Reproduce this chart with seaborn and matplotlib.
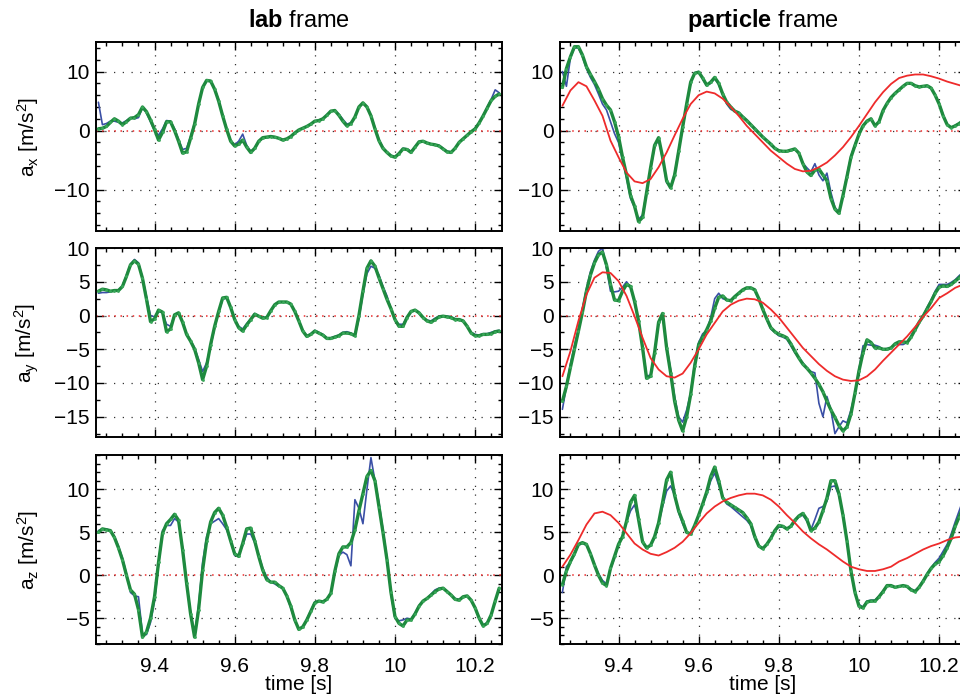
import numpy as np
import pandas as pd
import seaborn as sns
import matplotlib.pyplot as plt
from matplotlib.ticker import MultipleLocator

# sample times [s] of the measured traces
time = [9.26, 9.27, 9.28, 9.29, 9.30, 9.31, 9.32, 9.33, 9.34, 9.35,
        9.36, 9.37, 9.38, 9.39, 9.40, 9.41, 9.42, 9.43, 9.44, 9.45,
        9.46, 9.47, 9.48, 9.49, 9.50, 9.51, 9.52, 9.53, 9.54, 9.55,
        9.56, 9.57, 9.58, 9.59, 9.60, 9.61, 9.62, 9.63, 9.64, 9.65,
        9.66, 9.67, 9.68, 9.69, 9.70, 9.71, 9.72, 9.73, 9.74, 9.75,
        9.76, 9.77, 9.78, 9.79, 9.80, 9.81, 9.82, 9.83, 9.84, 9.85,
        9.86, 9.87, 9.88, 9.89, 9.90, 9.91, 9.92, 9.93, 9.94, 9.95,
        9.96, 9.97, 9.98, 9.99, 10.00, 10.01, 10.02, 10.03, 10.04, 10.05,
        10.06, 10.07, 10.08, 10.09, 10.10, 10.11, 10.12, 10.13, 10.14, 10.15,
        10.16, 10.17, 10.18, 10.19, 10.20, 10.21, 10.22, 10.23, 10.24, 10.25,
        10.26]

# sample times of the (smooth) red particle-frame reference
time_red = [9.26, 9.28, 9.30, 9.32, 9.34, 9.36, 9.38, 9.40, 9.42, 9.44,
            9.46, 9.48, 9.50, 9.52, 9.54, 9.56, 9.58, 9.60, 9.62, 9.64,
            9.66, 9.68, 9.70, 9.72, 9.74, 9.76, 9.78, 9.80, 9.82, 9.84,
            9.86, 9.88, 9.90, 9.92, 9.94, 9.96, 9.98, 10.00, 10.02, 10.04,
            10.06, 10.08, 10.10, 10.12, 10.14, 10.16, 10.18, 10.20, 10.22, 10.24,
            10.26]

# ---- lab frame ----
lab_ax_blue = [4.8, 1.0, 1.2, 1.6, 1.6, 1.4, 1.3, 1.7, 2.2, 2.0,
               2.2, 3.9, 3.0, 1.5, 0.0, -0.8, 0.3, 1.7, 1.6, 0.3,
               -1.5, -3.2, -3.0, -1.0, 1.3, 4.4, 7.3, 8.4, 8.3, 7.1,
               5.2, 2.6, 0.3, -1.7, -2.4, -1.8, -0.6, -2.5, -3.5, -3.0,
               -1.9, -1.3, -1.2, -1.1, -1.2, -1.3, -1.5, -1.4, -1.1, -0.5,
               0.1, 0.4, 0.7, 1.1, 1.6, 1.8, 2.0, 2.7, 3.3, 3.3,
               2.8, 1.9, 1.1, 1.3, 2.3, 3.9, 4.6, 4.1, 2.6, 0.5,
               -1.5, -2.9, -3.6, -4.2, -4.4, -3.8, -3.0, -3.1, -3.5, -2.7,
               -2.0, -1.9, -2.1, -2.3, -2.4, -2.5, -3.0, -3.5, -3.6, -3.0,
               -2.0, -1.4, -0.8, -0.2, 0.4, 1.4, 2.6, 4.0, 5.3, 6.9,
               6.4]
lab_ax_green = [0.3, 0.4, 0.7, 1.4, 2.0, 1.6, 1.0, 1.5, 2.1, 2.2,
                2.7, 4.0, 3.2, 1.8, 0.2, -1.6, -0.3, 1.5, 1.5, 0.0,
                -1.8, -3.8, -3.6, -1.3, 1.1, 4.5, 7.3, 8.5, 8.4, 7.0,
                5.0, 2.5, 0.2, -1.8, -2.6, -2.3, -1.6, -2.8, -3.7, -3.0,
                -1.8, -1.2, -1.1, -1.0, -1.1, -1.3, -1.6, -1.4, -1.0, -0.4,
                0.1, 0.4, 0.7, 1.1, 1.6, 1.7, 2.0, 2.6, 3.3, 3.4,
                2.6, 1.6, 0.8, 1.2, 2.3, 4.0, 4.7, 4.0, 2.5, 0.3,
                -1.7, -3.0, -3.7, -4.3, -4.5, -3.9, -3.1, -3.2, -3.7, -2.8,
                -1.9, -1.8, -2.1, -2.3, -2.4, -2.6, -3.1, -3.6, -3.7, -3.0,
                -2.0, -1.4, -0.8, -0.2, 0.3, 1.3, 2.5, 3.8, 5.1, 5.8,
                6.2]

lab_ay_blue = [3.3, 3.4, 3.4, 3.5, 3.7, 3.8, 4.4, 6.0, 7.6, 8.3,
               7.8, 5.6, 2.8, 0.0, -0.2, 0.6, 0.4, -1.3, -1.6, 0.1,
               0.4, -0.9, -2.7, -3.7, -4.8, -6.5, -8.3, -7.0, -4.6, -1.8,
               0.4, 2.4, 2.6, 1.3, -0.5, -1.6, -2.0, -1.2, -0.5, 0.3,
               -0.1, -0.3, -0.3, 0.7, 1.6, 2.0, 2.0, 2.0, 1.7, 0.6,
               -0.8, -2.2, -3.0, -2.7, -2.2, -2.5, -2.8, -3.3, -3.3, -3.1,
               -2.9, -2.5, -2.4, -2.6, -3.0, -0.5, 3.2, 6.2, 7.3, 7.0,
               6.0, 4.3, 2.9, 1.0, -0.7, -1.3, -1.3, -0.2, 0.5, 0.8,
               0.3, -0.3, -0.7, -0.8, -0.4, -0.1, -0.1, -0.1, -0.2, -0.5,
               -0.5, -0.8, -1.6, -2.5, -2.8, -2.9, -2.7, -2.7, -2.5, -2.3,
               -2.2]
lab_ay_green = [3.6, 3.9, 3.8, 3.6, 3.7, 3.7, 4.3, 5.8, 7.5, 8.1,
                7.6, 5.5, 2.4, -0.9, -0.5, 0.8, 0.5, -2.4, -2.0, 0.1,
                0.4, -1.0, -2.8, -3.8, -5.0, -7.0, -9.5, -7.5, -4.3, -1.6,
                0.6, 2.6, 2.7, 1.2, -0.6, -1.8, -2.3, -1.4, -0.6, 0.2,
                -0.1, -0.4, -0.3, 0.7, 1.6, 2.0, 2.0, 2.0, 1.7, 0.6,
                -0.8, -2.3, -3.1, -2.8, -2.3, -2.6, -2.9, -3.4, -3.4, -3.2,
                -3.0, -2.6, -2.6, -2.7, -3.0, 0.0, 3.6, 7.0, 8.1, 7.3,
                5.6, 4.0, 2.4, 1.0, -0.6, -1.6, -1.6, -0.3, 0.6, 0.8,
                0.4, -0.3, -0.8, -1.0, -0.6, -0.2, -0.1, -0.2, -0.3, -0.6,
                -0.6, -0.8, -1.6, -2.6, -3.0, -3.0, -2.8, -2.8, -2.7, -2.4,
                -2.3]

lab_az_blue = [5.2, 5.4, 5.4, 5.2, 4.5, 3.4, 2.0, 0.2, -2.0, -2.4,
               -2.5, -6.8, -6.9, -5.5, -3.0, 1.2, 5.2, 5.8, 5.8, 6.6,
               6.2, 3.2, -1.0, -4.3, -6.8, -3.5, 1.5, 4.5, 6.0, 6.3,
               6.6, 6.0, 5.3, 4.0, 2.3, 2.4, 3.5, 4.8, 4.8, 3.8,
               2.4, 0.8, -0.2, -0.8, -1.0, -1.3, -1.5, -2.4, -3.8, -5.3,
               -6.2, -6.0, -5.1, -4.1, -3.1, -3.0, -3.1, -2.8, -2.0, 0.3,
               2.3, 2.7, 2.4, 1.1, 8.8, 7.8, 6.0, 10.0, 13.7, 11.0,
               8.5, 5.3, 2.0, -2.2, -5.0, -5.3, -5.2, -5.0, -5.1, -4.4,
               -3.5, -3.0, -2.7, -2.2, -1.7, -1.5, -1.5, -1.9, -2.3, -2.7,
               -2.8, -2.5, -2.4, -2.9, -3.8, -5.0, -5.8, -5.5, -4.6, -3.0,
               -1.5]
lab_az_green = [5.0, 5.4, 5.3, 5.2, 4.4, 3.2, 1.8, 0.0, -1.7, -2.2,
                -4.0, -7.2, -6.6, -5.0, -2.5, 1.5, 4.9, 6.0, 6.5, 7.1,
                6.4, 3.0, -0.9, -4.5, -7.2, -4.0, 0.6, 4.0, 6.2, 7.3,
                7.8, 7.0, 5.6, 4.0, 2.5, 2.2, 3.7, 5.4, 5.5, 4.0,
                2.2, 0.6, -0.5, -0.8, -0.8, -1.2, -1.5, -2.4, -3.6, -5.2,
                -6.3, -6.0, -5.2, -4.2, -3.2, -3.0, -3.1, -2.8, -2.1, 0.5,
                2.5, 3.3, 3.3, 3.8, 5.3, 7.5, 9.5, 11.5, 12.2, 11.0,
                8.0, 5.0, 1.8, -2.0, -4.8, -5.6, -5.9, -5.2, -5.2, -4.5,
                -3.6, -3.0, -2.7, -2.3, -1.9, -1.6, -1.5, -1.9, -2.3, -2.8,
                -2.9, -2.5, -2.4, -2.9, -3.8, -5.0, -5.9, -5.6, -4.6, -3.0,
                -1.5]

# ---- particle frame ----
part_ax_blue = [10.0, 7.5, 12.3, 14.0, 14.0, 12.5, 10.5, 9.0, 7.8, 6.2,
                4.5, 3.5, 1.5, -0.5, -2.0, -5.0, -8.0, -11.5, -13.0, -15.0,
                -14.3, -10.3, -6.5, -2.8, -1.5, -4.8, -8.8, -9.6, -7.3, -3.3,
                0.4, 4.3, 8.0, 9.8, 10.0, 8.7, 7.6, 8.0, 8.8, 7.8,
                6.0, 4.5, 3.6, 3.3, 3.0, 2.4, 1.8, 1.0, 0.4, -0.3,
                -1.0, -1.7, -2.5, -3.0, -3.4, -3.5, -3.5, -3.4, -3.2, -3.8,
                -5.5, -6.3, -7.0, -5.6, -7.5, -8.5, -7.2, -10.5, -13.0, -13.8,
                -11.0, -7.5, -4.3, -2.3, -0.6, 0.8, 1.7, 1.8, 0.9, 1.5,
                3.5, 4.6, 5.5, 6.3, 6.9, 7.5, 8.0, 8.0, 7.5, 7.4,
                7.4, 7.5, 7.1, 6.0, 4.6, 2.7, 1.1, 0.5, 0.9, 1.2,
                1.7]
part_ax_green = [7.3, 10.5, 12.5, 14.2, 14.2, 12.8, 10.8, 9.5, 8.3, 7.0,
                 5.4, 4.3, 3.5, 1.5, -1.0, -4.5, -7.5, -11.0, -12.8, -15.4,
                 -14.7, -10.5, -6.3, -2.5, -1.2, -4.5, -8.5, -9.7, -7.5, -3.5,
                 0.6, 4.5, 8.2, 9.7, 9.9, 8.9, 7.7, 8.2, 9.0, 8.0,
                 6.2, 4.8, 4.0, 3.3, 3.0, 2.3, 1.7, 1.0, 0.3, -0.4,
                 -1.1, -1.7, -2.3, -3.0, -3.4, -3.5, -3.5, -3.3, -3.1, -3.8,
                 -5.6, -7.0, -7.6, -6.7, -6.5, -7.5, -8.5, -11.5, -13.3, -14.0,
                 -11.0, -7.8, -4.5, -2.5, -0.6, 0.8, 1.6, 2.0, 0.8, 1.5,
                 3.4, 4.6, 5.6, 6.3, 6.9, 7.5, 8.0, 8.0, 7.6, 7.4,
                 7.5, 7.6, 7.2, 6.0, 4.5, 2.5, 1.0, 0.5, 0.8, 1.2,
                 1.7]
part_ax_red = [4.2, 6.8, 8.2, 7.5, 5.1, 2.5, -1.7, -4.5, -7.1, -8.6,
               -8.9, -8.2, -6.2, -3.7, -0.8, 2.0, 4.5, 6.0, 6.6, 6.3,
               5.4, 4.0, 2.5, 0.8, -0.6, -2.0, -3.4, -4.5, -5.6, -6.5,
               -6.9, -6.8, -6.2, -5.4, -4.2, -2.8, -1.1, 0.8, 2.8, 4.8,
               6.5, 7.9, 8.9, 9.3, 9.5, 9.5, 9.2, 8.8, 8.3, 7.9, 7.5]

part_ay_blue = [-13.9, -10.5, -7.2, -4.5, -2.0, 1.0, 4.0, 6.5, 8.2, 9.5,
                10.0, 7.0, 3.6, 3.5, 3.6, 4.2, 5.0, 4.2, 2.0, -1.0,
                -4.5, -9.0, -8.8, -5.5, -1.2, 0.0, -4.5, -8.0, -12.0, -15.0,
                -15.8, -14.0, -11.5, -7.0, -4.0, -2.7, -2.3, -0.3, 2.5, 3.3,
                2.5, 2.3, 2.3, 2.8, 3.2, 3.8, 4.0, 4.0, 3.9, 2.4,
                0.8, -0.6, -2.0, -2.5, -3.0, -3.2, -3.5, -4.5, -5.5, -6.3,
                -7.0, -7.8, -8.3, -8.5, -13.0, -15.0, -12.0, -14.0, -17.5, -16.5,
                -15.6, -15.9, -14.0, -11.5, -8.0, -4.5, -4.3, -4.4, -4.4, -4.6,
                -5.0, -4.9, -4.8, -4.3, -4.3, -4.3, -4.0, -3.0, -2.0, -1.0,
                0.0, 1.2, 2.3, 3.6, 4.6, 4.6, 4.6, 4.9, 5.3, 5.9,
                6.4]
part_ay_green = [-12.7, -10.5, -7.7, -5.0, -2.3, 0.5, 3.6, 6.0, 7.8, 9.0,
                 9.4, 7.5, 4.6, 2.3, 2.2, 3.6, 4.6, 4.3, 2.1, -0.8,
                 -4.8, -9.3, -9.0, -5.5, -1.0, 0.3, -4.8, -8.5, -12.7, -15.5,
                 -17.1, -15.0, -11.7, -7.5, -4.3, -3.2, -2.1, -0.8, 1.1, 2.7,
                 2.9, 2.3, 2.2, 2.8, 3.3, 3.8, 4.1, 4.1, 3.8, 2.5,
                 0.9, -0.5, -1.8, -2.4, -2.8, -3.0, -3.3, -4.2, -5.3, -6.3,
                 -7.2, -7.8, -8.5, -9.3, -10.2, -11.3, -12.7, -14.0, -15.1, -16.3,
                 -17.1, -16.5, -14.6, -11.5, -8.2, -5.5, -3.6, -4.0, -4.8, -4.8,
                 -5.0, -5.0, -4.8, -4.2, -3.9, -3.9, -4.0, -3.2, -2.1, -1.0,
                 -0.1, 1.0, 2.1, 3.3, 4.2, 4.4, 4.3, 4.6, 5.1, 5.6,
                 6.2]
part_ay_red = [-9.0, -5.3, -0.8, 3.1, 5.6, 6.4, 6.3, 5.1, 2.9, -0.1,
               -3.3, -6.3, -8.0, -9.0, -9.2, -8.6, -7.0, -5.0, -2.8, -1.1,
               0.6, 1.6, 2.2, 2.5, 2.4, 1.9, 0.9, -0.3, -1.8, -3.3,
               -4.8, -6.0, -7.2, -8.2, -9.0, -9.5, -9.7, -9.6, -9.0, -8.0,
               -6.7, -5.5, -4.3, -3.1, -1.7, -0.2, 1.1, 2.6, 3.3, 4.1, 4.6]

part_az_blue = [-2.0, 1.0, 1.5, 2.4, 3.5, 3.7, 3.5, 2.6, 1.3, 0.2,
                -0.6, -1.0, 0.7, 2.0, 3.6, 4.5, 6.2, 7.5, 8.2, 6.5,
                3.8, 3.2, 3.4, 4.4, 6.0, 8.0, 9.8, 10.4, 9.3, 7.3,
                6.0, 5.0, 4.8, 5.6, 7.0, 8.2, 9.4, 11.0, 11.9, 10.5,
                9.2, 8.3, 8.0, 7.6, 7.2, 6.8, 6.4, 5.8, 4.3, 3.4,
                3.2, 3.6, 4.4, 5.2, 5.6, 5.6, 5.5, 5.6, 6.2, 6.8,
                7.0, 6.3, 5.3, 6.5, 7.8, 8.0, 8.6, 10.3, 10.4, 9.3,
                7.2, 4.0, 0.4, -2.0, -3.4, -3.7, -3.0, -2.9, -2.9, -2.4,
                -1.8, -1.2, -1.2, -1.4, -1.3, -1.2, -1.3, -1.6, -1.8, -1.3,
                -0.6, 0.2, 0.9, 1.5, 2.0, 2.8, 3.6, 4.8, 6.2, 7.5,
                8.8]
part_az_green = [-1.1, 0.5, 1.6, 2.5, 3.6, 3.8, 3.6, 2.5, 1.2, 0.0,
                 -0.9, -1.2, 0.8, 2.2, 3.6, 4.5, 6.3, 8.5, 9.3, 6.5,
                 3.9, 3.2, 3.5, 4.5, 6.1, 8.5, 11.1, 12.0, 9.3, 7.5,
                 6.3, 5.0, 4.8, 5.8, 7.0, 8.3, 9.7, 11.5, 12.6, 11.0,
                 9.0, 8.5, 8.2, 7.9, 7.6, 7.3, 6.7, 6.0, 4.5, 3.4,
                 3.1, 3.6, 4.3, 5.2, 5.8, 5.7, 5.4, 5.7, 6.4, 6.9,
                 7.2, 6.5, 5.2, 5.5, 6.2, 7.5, 9.0, 11.0, 11.0, 9.5,
                 7.0, 4.0, 0.5, -2.0, -3.6, -3.8, -3.1, -3.0, -3.0, -2.5,
                 -1.9, -1.2, -1.2, -1.4, -1.3, -1.2, -1.3, -1.7, -1.9, -1.4,
                 -0.7, 0.1, 0.8, 1.3, 1.6, 2.3, 3.2, 4.3, 5.7, 6.8,
                 8.0]
part_az_red = [1.0, 2.4, 4.1, 5.9, 7.2, 7.4, 7.0, 6.1, 4.9, 3.7,
               3.0, 2.5, 2.3, 2.7, 3.2, 3.9, 4.9, 6.1, 7.2, 8.0,
               8.6, 9.0, 9.3, 9.5, 9.5, 9.3, 8.8, 8.0, 7.0, 6.1,
               5.1, 4.3, 3.6, 3.0, 2.3, 1.6, 1.0, 0.7, 0.5, 0.5,
               0.7, 1.0, 1.6, 2.0, 2.5, 3.0, 3.4, 3.7, 4.1, 4.4, 4.5]

row_labels = [r'a$_\mathrm{x}$ [m/s$^\mathrm{2}$]',
              r'a$_\mathrm{y}$ [m/s$^\mathrm{2}$]',
              r'a$_\mathrm{z}$ [m/s$^\mathrm{2}$]']
col_titles = [r'$\bf{lab}$ frame', r'$\bf{particle}$ frame']
row_ylims = [(-17, 15), (-18, 10), (-8, 14)]
row_major = [10, 5, 5]
row_minor = [2, 2.5, 1]

BLUE = '#3a4fa6'
GREEN = '#1e8a3e'
RED = '#ee2b2b'

sns.set_style('ticks')
plt.rcParams['font.family'] = ['Liberation Sans', 'DejaVu Sans']
plt.rcParams['mathtext.fontset'] = 'custom'
plt.rcParams['mathtext.rm'] = 'Liberation Sans'
plt.rcParams['mathtext.it'] = 'Liberation Sans:italic'
plt.rcParams['mathtext.bf'] = 'Liberation Sans:bold'
for key in ['text.color', 'axes.labelcolor', 'xtick.color', 'ytick.color',
            'axes.edgecolor']:
    plt.rcParams[key] = 'black'

fig = plt.figure(figsize=(9.6, 6.96), dpi=100)

lefts = [96 / 960, 560 / 960]
width = 406 / 960
bottoms = [1 - 231 / 696, 1 - 437 / 696, 1 - 644 / 696]
height = 189 / 696

panels = [
    [(lab_ax_blue, lab_ax_green, None), (part_ax_blue, part_ax_green, part_ax_red)],
    [(lab_ay_blue, lab_ay_green, None), (part_ay_blue, part_ay_green, part_ay_red)],
    [(lab_az_blue, lab_az_green, None), (part_az_blue, part_az_green, part_az_red)],
]

for r in range(3):
    for c in range(2):
        ax = fig.add_axes([lefts[c], bottoms[r], width, height])
        blue, green, red = panels[r][c]

        ax.axhline(0, color=RED, ls=(0, (1, 3)), lw=1.1, zorder=1)
        sns.lineplot(x=time, y=blue, ax=ax, color=BLUE, lw=1.2, zorder=2)
        sns.lineplot(x=time, y=green, ax=ax, color=GREEN, lw=2.4,
                     marker='o', markersize=2.0, markeredgewidth=0,
                     markerfacecolor='#3aa85a', zorder=3)
        if red is not None:
            sns.lineplot(x=time_red, y=red, ax=ax, color=RED, lw=1.3, zorder=4)

        ax.set_xlim(9.254, 10.267)
        ax.set_ylim(*row_ylims[r])
        ax.xaxis.set_major_locator(MultipleLocator(0.2))
        ax.xaxis.set_minor_locator(MultipleLocator(0.04))
        ax.yaxis.set_major_locator(MultipleLocator(row_major[r]))
        ax.yaxis.set_minor_locator(MultipleLocator(row_minor[r]))
        ax.xaxis.set_major_formatter(plt.FuncFormatter(lambda v, p: f'{v:g}'))
        ax.yaxis.set_major_formatter(plt.FuncFormatter(
            lambda v, p: f'{v:g}'.replace('-', '\u2212')))

        ax.tick_params(which='both', direction='in', top=True, right=True,
                       labelsize=15, width=1, color='black')
        ax.tick_params(which='major', length=6)
        ax.tick_params(axis='x', which='major', pad=9)
        ax.tick_params(axis='y', which='major', pad=4.5)
        ax.tick_params(which='minor', length=3)
        ax.grid(True, which='major', color='0.2', ls=(0, (1, 6)), lw=0.9)
        for s in ax.spines.values():
            s.set_linewidth(1.4)
            s.set_color('black')

        if r < 2:
            ax.tick_params(labelbottom=False)
            ax.set_xlabel('')
        else:
            ax.set_xlabel('time [s]', fontsize=15, labelpad=0)

        if c == 0:
            ax.set_ylabel(row_labels[r], fontsize=15)
            ax.yaxis.set_label_coords(-0.135, 0.5)
        else:
            ax.set_ylabel('')

        if r == 0:
            ax.set_title(col_titles[c], fontsize=17, pad=11)

fig.savefig('out.png', dpi=100)
